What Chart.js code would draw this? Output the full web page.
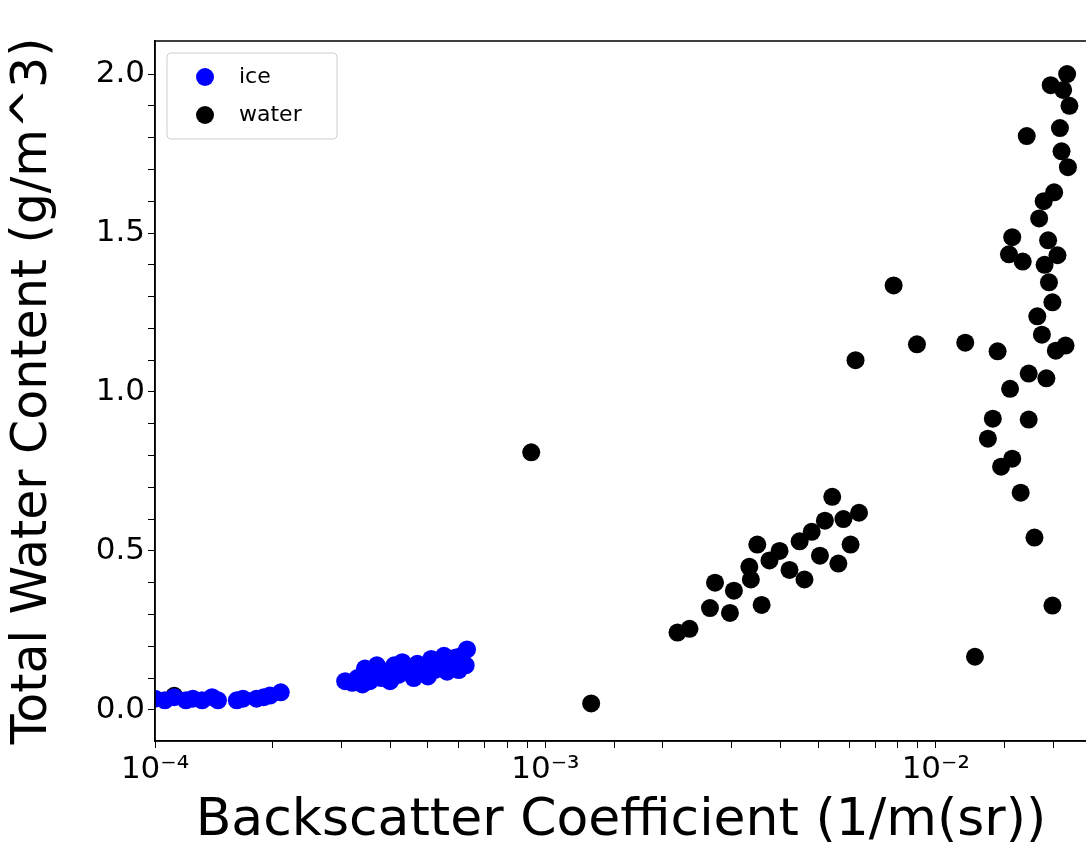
<!DOCTYPE html>
<html>
<head>
<meta charset="utf-8">
<script src="https://cdn.jsdelivr.net/npm/chart.js@4"></script>
<style>
  html, body { margin: 0; padding: 0; background: #fff; overflow: hidden; }
  #wrap { width: 1096px; height: 857px; }
  canvas { display: block; }
</style>
</head>
<body>
<div id="wrap"><canvas id="scatter"></canvas></div>
<script>
// ice: backscatter (1/m(sr)) and total water content (g/m^3)
const iceX = [1.0e-4, 1.06e-4, 1.12e-4, 1.2e-4, 1.25e-4, 1.32e-4, 1.4e-4, 1.45e-4, 1.62e-4, 1.68e-4, 1.82e-4, 1.9e-4, 1.97e-4, 2.1e-4,
  3.07e-4, 3.2e-4, 3.3e-4, 3.4e-4, 3.45e-4, 3.55e-4, 3.6e-4, 3.7e-4, 3.8e-4, 3.9e-4, 4.0e-4, 4.1e-4, 4.2e-4, 4.3e-4, 4.4e-4,
  4.5e-4, 4.6e-4, 4.7e-4, 4.8e-4, 4.9e-4, 5.0e-4, 5.1e-4, 5.2e-4, 5.3e-4, 5.4e-4, 5.5e-4, 5.6e-4, 5.7e-4, 5.8e-4, 5.9e-4, 6.0e-4, 6.1e-4, 6.25e-4, 6.3e-4];
const iceY = [0.035, 0.03, 0.04, 0.03, 0.035, 0.03, 0.04, 0.03, 0.03, 0.035, 0.035, 0.04, 0.045, 0.055,
  0.09, 0.085, 0.1, 0.08, 0.13, 0.09, 0.11, 0.14, 0.1, 0.12, 0.09, 0.14, 0.11, 0.15, 0.12,
  0.13, 0.1, 0.145, 0.12, 0.14, 0.105, 0.16, 0.125, 0.15, 0.13, 0.17, 0.12, 0.155, 0.14, 0.165, 0.125, 0.17, 0.14, 0.19];

// water
const waterX = [1.12e-4, 9.2e-4, 1.31e-3, 2.18e-3, 2.34e-3, 2.64e-3, 2.72e-3, 2.97e-3, 3.04e-3, 3.33e-3, 3.36e-3, 3.49e-3, 3.58e-3,
  3.75e-3, 3.98e-3, 4.22e-3, 4.48e-3, 4.61e-3, 4.81e-3, 5.05e-3, 5.2e-3, 5.43e-3, 5.63e-3, 5.8e-3, 6.05e-3, 6.23e-3, 6.36e-3,
  7.8e-3, 8.95e-3, 1.19e-2, 1.26e-2, 1.36e-2, 1.40e-2, 1.44e-2, 1.47e-2, 1.54e-2, 1.55e-2, 1.57e-2, 1.57e-2, 1.65e-2, 1.67e-2,
  1.71e-2, 1.73e-2, 1.73e-2, 1.79e-2, 1.82e-2, 1.84e-2, 1.87e-2, 1.89e-2, 1.90e-2, 1.92e-2, 1.94e-2, 1.95e-2, 1.97e-2, 1.99e-2,
  1.99e-2, 2.01e-2, 2.03e-2, 2.05e-2, 2.08e-2, 2.10e-2, 2.12e-2, 2.15e-2, 2.17e-2, 2.18e-2, 2.20e-2];
const waterY = [0.044, 0.81, 0.02, 0.243, 0.255, 0.32, 0.40, 0.305, 0.375, 0.45, 0.41, 0.52, 0.33,
  0.47, 0.50, 0.44, 0.53, 0.41, 0.56, 0.485, 0.595, 0.67, 0.46, 0.60, 0.52, 1.10, 0.62,
  1.335, 1.15, 1.155, 0.167, 0.853, 0.916, 1.128, 0.765, 1.433, 1.01, 0.79, 1.487, 0.683, 1.41,
  1.805, 1.058, 0.913, 0.542, 1.238, 1.546, 1.18, 1.60, 1.40, 1.043, 1.477, 1.345, 1.965, 1.282,
  0.328, 1.628, 1.13, 1.43, 1.83, 1.757, 1.95, 1.146, 2.0, 1.707, 1.90];

const xMin = 1e-4, xMax = 2.44e-2;
const yMin = -0.098, yMax = 2.104;
const yTicks = [0, 0.1, 0.2, 0.3, 0.4, 0.5, 0.6, 0.7, 0.8, 0.9, 1.0, 1.1, 1.2, 1.3, 1.4, 1.5, 1.6, 1.7, 1.8, 1.9, 2.0];
const supers = { '-': '⁻', '0': '⁰', '1': '¹', '2': '²', '3': '³', '4': '⁴' };

function pts(xs, ys) { return xs.map((x, i) => ({ x: x, y: ys[i] })); }

const frame = {
  id: 'frame',
  afterDraw(chart) {
    const { ctx, chartArea: a } = chart;
    ctx.save();
    ctx.strokeStyle = '#000';
    ctx.lineWidth = 1.5;
    ctx.strokeRect(a.left, a.top, a.right - a.left, a.bottom - a.top);
    // legend
    const lx = a.left + 12, ly = a.top + 12;
    ctx.fillStyle = 'rgba(255,255,255,0.8)';
    ctx.strokeStyle = '#ccc';
    ctx.lineWidth = 1;
    ctx.beginPath();
    ctx.roundRect(lx, ly, 170, 86, 4);
    ctx.fill(); ctx.stroke();
    const items = [['ice', '#0000ff'], ['water', '#000000']];
    ctx.font = '22px "DejaVu Sans"';
    ctx.textBaseline = 'middle';
    items.forEach((it, i) => {
      const cy = ly + 24 + i * 38;
      ctx.fillStyle = it[1];
      ctx.beginPath(); ctx.arc(lx + 38, cy, 9, 0, Math.PI * 2); ctx.fill();
      ctx.fillStyle = '#000';
      ctx.fillText(it[0], lx + 72, cy);
    });
    ctx.restore();
  }
};

new Chart(document.getElementById('scatter'), {
  type: 'scatter',
  data: {
    datasets: [
      { label: 'ice', data: pts(iceX, iceY), backgroundColor: '#0000ff', borderWidth: 0, pointRadius: 9, pointHoverRadius: 9 },
      { label: 'water', data: pts(waterX, waterY), backgroundColor: '#000000', borderWidth: 0, pointRadius: 9, pointHoverRadius: 9 }
    ]
  },
  options: {
    responsive: true,
    maintainAspectRatio: false,
    animation: false,
    layout: { padding: { top: 41, right: 1, left: 0, bottom: 0 } },
    plugins: { legend: { display: false }, tooltip: { enabled: false } },
    scales: {
      x: {
        type: 'logarithmic',
        min: xMin, max: xMax,
        afterFit(s) { s.height = 116; s.paddingRight = 0; },
        grid: { drawOnChartArea: false, color: '#000', tickLength: 7, tickWidth: 1 },
        border: { color: '#000', width: 1.5 },
        ticks: {
          color: '#000', font: { family: 'DejaVu Sans', size: 31 }, autoSkip: false, maxRotation: 0,
          callback(v) {
            const e = Math.log10(v);
            if (Math.abs(e - Math.round(e)) > 1e-6) return '';
            return '10' + String(Math.round(e)).split('').map(c => supers[c]).join('');
          }
        },
        title: { display: true, text: 'Backscatter Coefficient (1/m(sr))', color: '#000', font: { family: 'DejaVu Sans', size: 52 }, padding: { top: 0 } }
      },
      y: {
        min: yMin, max: yMax,
        afterFit(s) { s.width = 155; },
        afterBuildTicks(s) { s.ticks = yTicks.map(v => ({ value: v })); },
        grid: { drawOnChartArea: false, color: '#000', tickLength: 7 },
        border: { color: '#000', width: 1.5 },
        ticks: {
          color: '#000', font: { family: 'DejaVu Sans', size: 31 }, autoSkip: false,
          callback(v) {
            const r = Math.round(v * 10);
            if (r % 5 !== 0) return '';
            return (r / 10).toFixed(1);
          }
        },
        title: { display: true, text: 'Total Water Content (g/m^3)', color: '#000', font: { family: 'DejaVu Sans', size: 49 }, padding: { bottom: 4 } }
      }
    }
  },
  plugins: [frame]
});
</script>
</body>
</html>
